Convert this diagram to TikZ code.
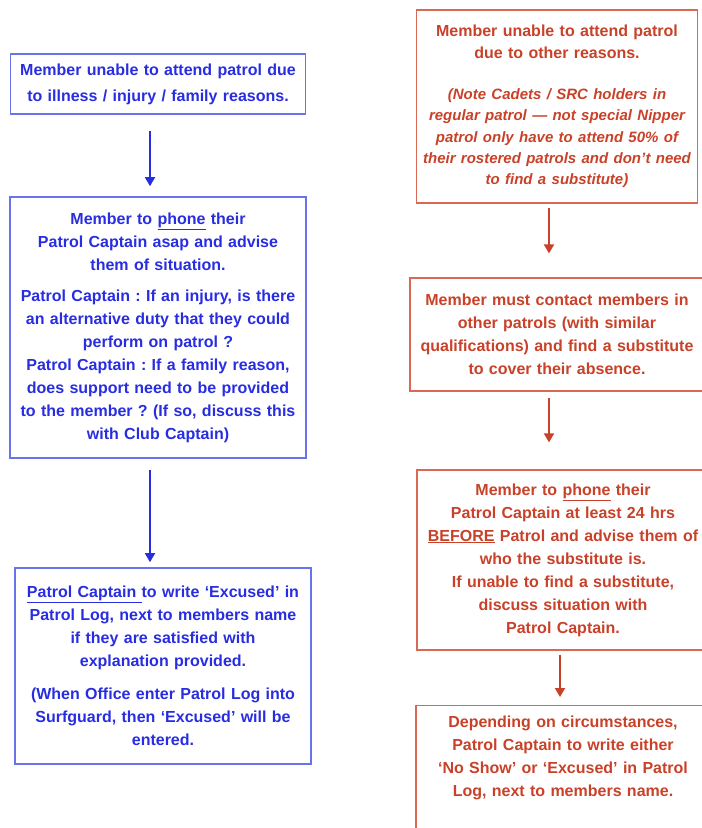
\documentclass[tikz,border=0pt]{standalone}
\usepackage{fontspec}
\setmainfont{Liberation Sans}
\usepackage{xcolor}
\usepackage{tikz}
\usetikzlibrary{arrows.meta}
\frenchspacing

\definecolor{illblue}{RGB}{40,45,225}
\definecolor{illframe}{RGB}{105,115,235}
\definecolor{othred}{RGB}{200,65,40}
\definecolor{othframe}{RGB}{215,105,85}

\begin{document}
\begin{tikzpicture}[
x=1pt, y=-1pt,
bluebox/.style={
  rectangle,
  draw=illframe,
  line width=1.6pt,
  text=illblue,
  align=center,
  inner xsep=4pt,
  font=\fontsize{16}{23}\selectfont\bfseries
},
redbox/.style={
  rectangle,
  draw=othframe,
  line width=1.2pt,
  text=othred,
  align=center,
  inner xsep=4pt,
  font=\fontsize{16}{23}\selectfont\bfseries
},
bluearr/.style={-{Triangle[width=10pt,length=9pt]}, line width=1.8pt, illblue},
redarr/.style={-{Triangle[width=10pt,length=9pt]}, line width=1.8pt, othred}
]
\useasboundingbox (0,0) rectangle (702,828);

% ---- LEFT SIDE: illness / injury / family ----
\node[bluebox, text width=287pt, minimum height=60pt,
  font=\fontsize{16}{26}\selectfont\bfseries] (ill1) at (158, 84)
  {Member unable to attend patrol due\\to illness / injury / family reasons.};

\node[bluebox, text width=288pt, minimum height=261pt] (ill2) at (158, 327.5)
  {Member to \underline{phone} their\\
   Patrol Captain asap and advise\\
   them of situation.\\[8pt]
   Patrol Captain : If an injury, is there\\
   an alternative duty that they could\\
   perform on patrol ?\\
   Patrol Captain : If a family reason,\\
   does support need to be provided\\
   to the member ? (If so, discuss this\\
   with Club Captain)};

\node[bluebox, text width=288pt, minimum height=196pt] (ill3) at (163, 666)
  {\underline{Patrol Captain }to write ‘Excused’ in\\
   Patrol Log, next to members name\\
   if they are satisfied with\\
   explanation provided.\\[10pt]
   (When Office enter Patrol Log into\\
   Surfguard, then ‘Excused’ will be\\
   entered.};

\draw[bluearr, shorten <=16pt, shorten >=10pt]
  ([xshift=-8pt]ill1.south) -- ([xshift=-8pt]ill2.north);
\draw[bluearr, shorten <=11pt, shorten >=5pt]
  ([xshift=-8pt]ill2.south) -- ([xshift=-13pt]ill3.north);

% ---- RIGHT SIDE: other reasons ----
\node[redbox, text width=281pt, inner xsep=0pt, minimum height=193pt,
  font=\fontsize{16}{21.5}\selectfont\bfseries] (oth1) at (557, 106.5)
  {Member unable to attend patrol\\
   due to other reasons.\\[20pt]
   \fontsize{15}{21.3}\selectfont\itshape (Note Cadets / SRC holders in\\
   regular patrol — not special  Nipper\\
   patrol only have to attend 50\% of\\
   their rostered patrols and don’t need\\
   to find a substitute)};

\node[redbox, text width=286pt, minimum height=113pt] (oth2) at (557, 334.5)
  {Member must contact members in\\
   other patrols (with similar\\
   qualifications) and find a substitute\\
   to cover their absence.};

\node[redbox, text width=284pt, minimum height=180pt] (oth3) at (563, 560)
  {Member to \underline{phone} their\\
   Patrol Captain at least 24 hrs\\
   \underline{BEFORE} Patrol and advise them of\\
   who the substitute is.\\
   If unable to find a substitute,\\
   discuss situation with\\
   Patrol Captain.};

\node[redbox, text width=286pt, inner ysep=10pt, anchor=north] (oth4) at (563, 705)
  {Depending on circumstances,\\
   Patrol Captain to write either\\
   ‘No Show’ or ‘Excused’ in Patrol\\
   Log, next to members name.\rule[-40pt]{0pt}{40pt}};

\draw[redarr, shorten <=4pt, shorten >=24pt]
  ([xshift=-8pt]oth1.south) -- ([xshift=-8pt]oth2.north);
\draw[redarr, shorten <=6pt, shorten >=27pt]
  ([xshift=-8pt]oth2.south) -- ([xshift=-14pt]oth3.north);
\draw[redarr, shorten <=4pt, shorten >=8pt]
  ([xshift=-3pt]oth3.south) -- ([xshift=-3pt]oth4.north);

\end{tikzpicture}
\end{document}
